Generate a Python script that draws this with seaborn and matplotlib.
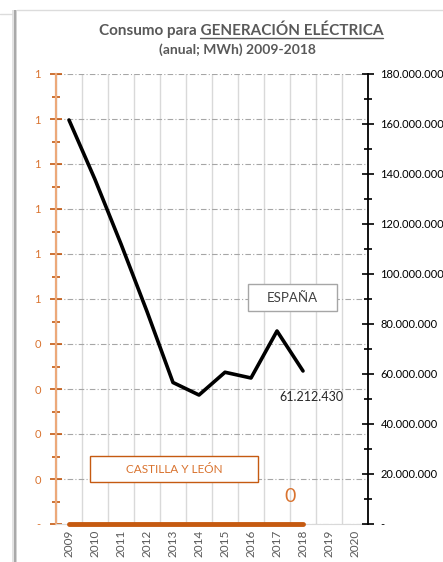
import numpy as np
import pandas as pd
import matplotlib
matplotlib.use('Agg')
import matplotlib.pyplot as plt
import matplotlib.ticker as mticker
from matplotlib.patches import Rectangle
from matplotlib.lines import Line2D
import seaborn as sns

# datos (MWh)
anios = ['2009', '2010', '2011', '2012', '2013', '2014', '2015', '2016', '2017', '2018', '2019', '2020']
espana = [161600000, 137800000, 112000000, 85000000, 56600000, 51600000,
          60700000, 58400000, 77200000, 61212430]
castilla = [0, 0, 0, 0, 0, 0, 0, 0, 0, 0]

sns.set_style('white')
plt.rcParams['font.family'] = ['Lato', 'DejaVu Sans']

df = pd.DataFrame({'anio': anios[:len(espana)], 'espana': espana, 'castilla': castilla})
df['pos'] = range(len(df))

W, H = 443, 562
fig = plt.figure(figsize=(W / 100, H / 100), dpi=100)

def fx(x):
    return x / W

def fy(y):
    return 1 - y / H

ax = fig.add_axes([fx(56), 38 / H, 312 / W, 450 / H])
ax2 = ax.twinx()

naranja = '#c55a11'
naranja_txt = '#d9732f'
gris = '#595959'

# eje izquierdo (Castilla y Leon)
ax.set_ylim(0, 1)
ax.yaxis.set_major_locator(mticker.MultipleLocator(0.1))
ax.yaxis.set_minor_locator(mticker.MultipleLocator(0.05))
ax.yaxis.set_major_formatter(mticker.FuncFormatter(
    lambda v, p: '-' if v < 1e-9 else str(int(v + 0.5 + 1e-9))))
ax.tick_params(axis='y', which='major', direction='inout', length=8, width=1.2,
               color=naranja, labelcolor=naranja_txt, labelsize=8, pad=7, left=True)
ax.tick_params(axis='y', which='minor', direction='inout', length=6, width=1.2,
               color=naranja, left=True)
ax.grid(axis='y', which='major', linestyle=(0, (5, 2, 1, 2)), color='#a6a6a6', lw=0.8)

ax.set_xlim(-0.5, len(anios) - 0.5)
ax.set_xticks(range(len(anios)))
ax.set_xticklabels(anios, rotation=90, color=gris, fontsize=8.5)
ax.set_xticks(np.arange(-0.5, len(anios), 1), minor=True)
ax.tick_params(axis='x', which='both', length=0, pad=4)
ax.grid(axis='x', which='minor', color='#d9d9d9', lw=1)

for s in ['top', 'right']:
    ax.spines[s].set_visible(False)
ax.spines['left'].set_color('#eca97a')
ax.spines['left'].set_linewidth(1.6)
ax.spines['bottom'].set_color('#d9d9d9')

sns.lineplot(data=df, x='pos', y='castilla', ax=ax, color=naranja, lw=3.5,
             clip_on=False, zorder=5)

# eje derecho (Espana)
sns.lineplot(data=df, x='pos', y='espana', ax=ax2, color='black', lw=2.6)
ax2.set_ylim(0, 180000000)
ax2.yaxis.set_major_locator(mticker.MultipleLocator(20000000))
ax2.yaxis.set_minor_locator(mticker.MultipleLocator(10000000))
ax2.yaxis.set_major_formatter(mticker.FuncFormatter(
    lambda v, p: '-' if v < 1 else f'{int(v):,}'.replace(',', '.')))
ax2.tick_params(axis='y', which='major', direction='inout', length=8, width=1.2,
                color='black', labelcolor='black', labelsize=8, pad=5, right=True)
ax2.tick_params(axis='y', which='minor', direction='inout', length=6, width=1.2,
                color='black', right=True)
for s in ['top', 'left', 'bottom']:
    ax2.spines[s].set_visible(False)
ax2.spines['right'].set_color('black')
ax2.spines['right'].set_linewidth(1.3)

for a in (ax, ax2):
    a.set_xlabel('')
    a.set_ylabel('')
ax.set_xlim(-0.5, len(anios) - 0.5)

# etiquetas de datos
ultimo = len(espana) - 1
ax2.annotate(f'{espana[-1]:,}'.replace(',', '.'), (ultimo, espana[-1]),
             xytext=(8, -26), textcoords='offset pixels', ha='center', va='center',
             fontsize=9, color='#262626')
ax.annotate(str(castilla[-1]), (ultimo, castilla[-1]),
            xytext=(-13, 27), textcoords='offset pixels', ha='center', va='center',
            fontsize=14, color=naranja_txt)

# cuadros de leyenda
fig.add_artist(Rectangle((fx(248), fy(311)), 89 / W, 27 / H, transform=fig.transFigure,
                         fill=True, facecolor='white', edgecolor='#a6a6a6', lw=1, zorder=10))
fig.text(fx(292.5), fy(297.5), 'ESPAÑA', ha='center', va='center', fontsize=9.5,
         color='#404040', zorder=11)
fig.add_artist(Rectangle((fx(90), fy(482)), 168 / W, 26 / H, transform=fig.transFigure,
                         fill=True, facecolor='white', edgecolor=naranja, lw=1, zorder=10))
fig.text(fx(174), fy(469.5), 'CASTILLA Y LEÓN', ha='center', va='center', fontsize=8.5,
         color=naranja_txt, zorder=11)

# titulo con subrayado
titulo = fig.text(fx(241), fy(35.5), 'Consumo para GENERACIÓN ELÉCTRICA', ha='center',
                  va='baseline', fontsize=11, fontweight='bold', color=gris)
fig.text(fx(237), fy(54), '(anual; MWh) 2009-2018', ha='center', va='baseline',
         fontsize=10, fontweight='bold', color=gris)
r = fig.canvas.get_renderer()
bb = titulo.get_window_extent(r)
tmp = fig.text(0, 0, 'GENERACIÓN ELÉCTRICA', fontsize=11, fontweight='bold')
w = tmp.get_window_extent(r).width
tmp.remove()
fig.add_artist(Line2D([(bb.x1 - w) / W, bb.x1 / W], [fy(37.5), fy(37.5)],
                      transform=fig.transFigure, color=gris, lw=1))

# marco del grafico
fig.add_artist(Rectangle((fx(12), 0), 1.5 / W, fy(10), transform=fig.transFigure,
                         color='#e3e3e3', lw=0))
fig.add_artist(Rectangle((fx(13.5), 0), 2 / W, fy(10), transform=fig.transFigure,
                         color='#a9a9a9', lw=0))
fig.add_artist(Rectangle((fx(15.5), 0), 1.5 / W, fy(10), transform=fig.transFigure,
                         color='#d4d4d4', lw=0))
fig.add_artist(Line2D([fx(17), 1], [fy(9.5), fy(9.5)], transform=fig.transFigure,
                      color='#dcdcdc', lw=1))
fig.add_artist(Line2D([0, fx(12)], [fy(13.5), fy(13.5)], transform=fig.transFigure,
                      color='#dcdcdc', lw=1))

fig.savefig('out.png', dpi=100)
